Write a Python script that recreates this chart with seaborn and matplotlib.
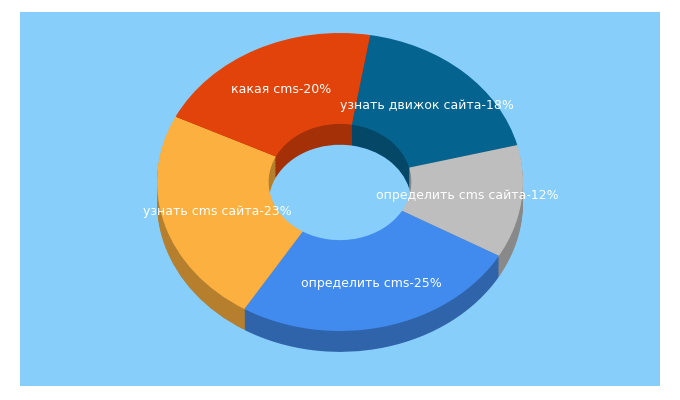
import matplotlib
matplotlib.use("Agg")
import matplotlib.pyplot as plt
import matplotlib.colors as mc
import seaborn as sns
import numpy as np

sns.set_theme(style="white")
plt.rcParams['font.family'] = ['DejaVu Sans']

labels = ["узнать движок сайта", "определить cms сайта", "определить cms", "узнать cms сайта", "какая cms"]
values = [18, 12, 25, 23, 20]
colors = ["#05638f", "#bebebe", "#418bee", "#fbb040", "#e2430a"]

fig = plt.figure(figsize=(6.8, 4), dpi=100)
ax = fig.add_axes([20/680, 14/400, 640/680, 374/400])

def darker(c, f):
    r, g, b = mc.to_rgb(c)
    return (r*f, g*f, b*f)

start = 80.5
width = 0.61
thick = 0.14
steps = 14
for i in range(steps, 0, -1):
    dy = thick * i / steps
    ax.pie(values, colors=[darker(c, 0.72) for c in colors], startangle=start,
           counterclock=False, center=(0, -dy), radius=1, frame=True,
           wedgeprops=dict(width=width, linewidth=0))
ax.pie(values, colors=colors, startangle=start, counterclock=False, frame=True,
       labels=[f"{l}-{v}%" for l, v in zip(labels, values)], labeldistance=0.7,
       textprops=dict(color="white", fontsize=9, ha="center", va="center"),
       wedgeprops=dict(width=width, linewidth=0))
for t in ax.texts:
    t.set_ha("center")

ax.set_axis_on()
ax.set_facecolor("#87cefa")
ax.set_aspect("auto")
ax.set_xlim(-1.749, 1.749)
ax.set_ylim(-1.369, 1.141)
ax.set_xticks([]); ax.set_yticks([])
for s in ax.spines.values():
    s.set_visible(False)
fig.savefig("out.png", dpi=100, facecolor="white")
